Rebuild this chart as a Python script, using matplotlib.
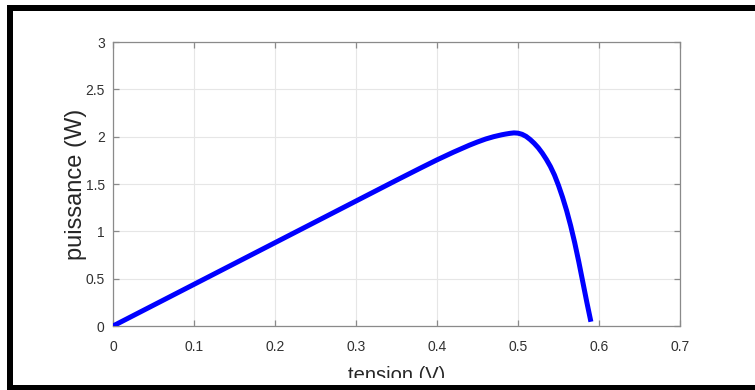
import matplotlib
matplotlib.use("Agg")
import matplotlib.pyplot as plt
from matplotlib.patches import Rectangle

plt.rcParams['font.family'] = ['Liberation Sans', 'DejaVu Sans']

# courbe P(V)
tension = [0, 0.05, 0.10, 0.15, 0.20, 0.25, 0.30, 0.35, 0.38, 0.40, 0.42,
           0.44, 0.45, 0.46, 0.47, 0.48, 0.485, 0.49, 0.495, 0.50, 0.505,
           0.51, 0.515, 0.52, 0.525, 0.53, 0.535, 0.54, 0.545, 0.55, 0.555,
           0.56, 0.565, 0.57, 0.575, 0.58, 0.585, 0.59]
puissance = [0, 0.22, 0.44, 0.66, 0.88, 1.10, 1.32, 1.54, 1.67, 1.755, 1.835,
             1.91, 1.944, 1.975, 2.0, 2.02, 2.028, 2.035, 2.04, 2.037, 2.025,
             2.003, 1.97, 1.93, 1.883, 1.826, 1.76, 1.685, 1.595, 1.485, 1.36,
             1.22, 1.06, 0.88, 0.68, 0.465, 0.25, 0.045]

xticks = [0, 0.1, 0.2, 0.3, 0.4, 0.5, 0.6, 0.7]
xtick_labels = ["0", "0.1", "0.2", "0.3", "0.4", "0.5", "0.6", "0.7"]
yticks = [0, 0.5, 1, 1.5, 2, 2.5, 3]
ytick_labels = ["0", "0.5", "1", "1.5", "2", "2.5", "3"]

W, H = 755, 390
fig = plt.figure(figsize=(W / 100, H / 100), dpi=100)
ax = fig.add_axes([113 / W, (H - 326) / H, (680 - 113) / W, (326 - 42) / H])

ax.plot(tension, puissance, color='#0000ff', lw=3.6,
        solid_capstyle='butt', solid_joinstyle='round', zorder=3)

ax.set_xlim(0, 0.7)
ax.set_ylim(0, 3)
ax.set_xticks(xticks)
ax.set_xticklabels(xtick_labels)
ax.set_yticks(yticks)
ax.set_yticklabels(ytick_labels)

# style matlab : ticks dedans sur les 4 cotes, grille claire
ax.grid(True, color='#e6e6e6', lw=0.8)
ax.set_axisbelow(True)
for s in ax.spines.values():
    s.set_color('#8a8a8a')
    s.set_linewidth(0.9)
ax.tick_params(direction='in', length=4, width=0.9, color='#8a8a8a',
               top=True, right=True, labelsize=10, labelcolor='#303030')
ax.tick_params(axis='x', pad=10)
ax.tick_params(axis='y', pad=6)

ax.set_xlabel("tension (V)", fontsize=14.5, color='#262626')
ax.set_ylabel("puissance (W)", fontsize=17, color='#262626')
ax.xaxis.set_label_coords(0.5, -0.14)
ax.yaxis.set_label_coords(-0.046, 0.5)

# cadre noir de la capture (pas de bord a droite) + bas du label coupe
ff = fig.transFigure
fig.add_artist(Rectangle((13 / W, 5 / H), 1, 7 / H, transform=ff,
                         facecolor='white', edgecolor='none', zorder=10))
fig.add_artist(Rectangle((7 / W, 0), 6 / W, (H - 5) / H, transform=ff,
                         facecolor='black', edgecolor='none', zorder=11))
fig.add_artist(Rectangle((7 / W, (H - 11) / H), 1, 6 / H, transform=ff,
                         facecolor='black', edgecolor='none', zorder=11))
fig.add_artist(Rectangle((7 / W, 0), 1, 5 / H, transform=ff,
                         facecolor='black', edgecolor='none', zorder=11))

fig.savefig("out.png", dpi=100)
